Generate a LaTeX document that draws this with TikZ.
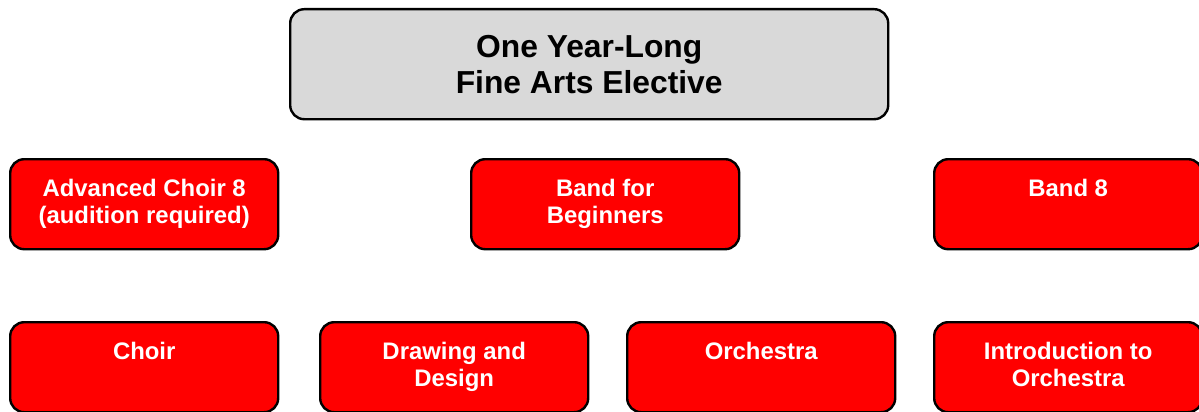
\documentclass[tikz,border=0pt]{standalone}
\usepackage{fontspec}
\setmainfont{Liberation Sans}
\definecolor{topgray}{HTML}{D9D9D9}
\definecolor{boxred}{HTML}{FF0000}
\tikzset{
  topbox/.style={draw=black, line width=2.4pt, fill=topgray, rounded corners=14pt,
    minimum width=598pt, minimum height=110pt, anchor=north west, align=center,
    font=\fontsize{31.8}{36}\selectfont\bfseries},
  redbox/.style={draw=black, line width=2.4pt, fill=boxred, rounded corners=14pt,
    minimum width=268pt, minimum height=90pt, anchor=north west},
  redtext/.style={anchor=north, yshift=-21pt, inner sep=0pt, text=white, align=center,
    font=\fontsize{23.9}{27}\selectfont\bfseries}
}
\begin{document}
\begin{tikzpicture}[x=1pt,y=-1pt]
  \useasboundingbox (0,0) rectangle (1199,412);
  % top
  \node[topbox] (elective) at (289,8) {One Year-Long\\Fine Arts Elective};
  % middle row
  \node[redbox, label={[redtext]north:Advanced Choir 8\\(audition required)}] (advchoir) at (9,158) {};
  \node[redbox, label={[redtext]north:Band for\\Beginners}] (beginband) at (470,158) {};
  \node[redbox, label={[redtext]north:Band 8}] (band8) at (933,158) {};
  % bottom row
  \node[redbox, label={[redtext]north:Choir}] (choir) at (9,321) {};
  \node[redbox, label={[redtext]north:Drawing and\\Design}] (drawing) at (319,321) {};
  \node[redbox, label={[redtext]north:Orchestra}] (orchestra) at (626,321) {};
  \node[redbox, label={[redtext]north:Introduction to\\Orchestra}] (introorch) at (933,321) {};
\end{tikzpicture}
\end{document}
